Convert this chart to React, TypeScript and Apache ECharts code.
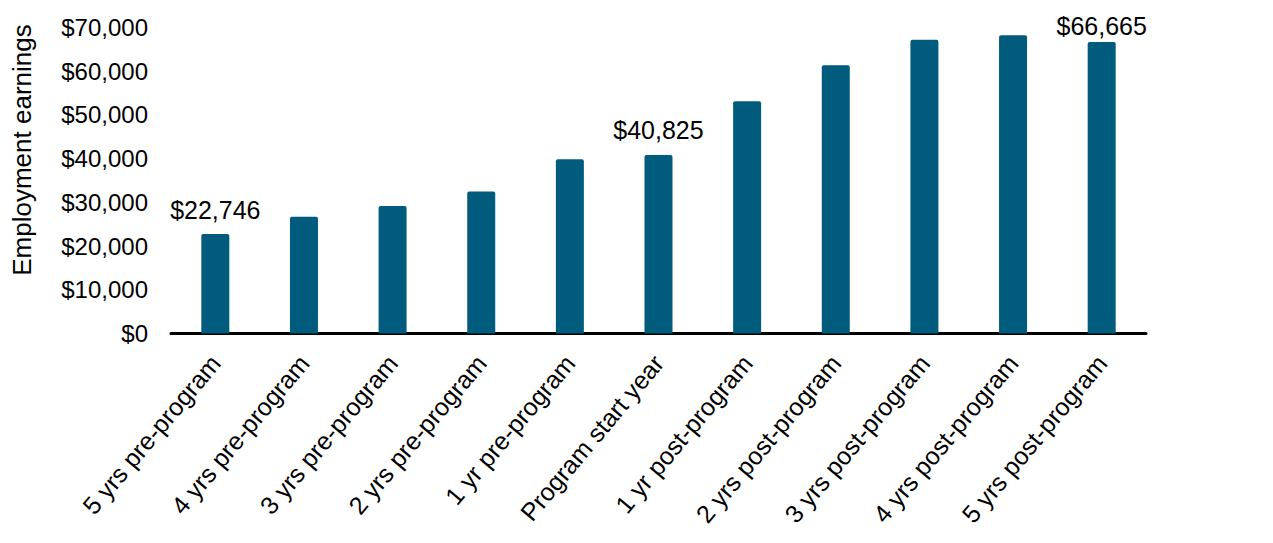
import React, { useEffect, useRef } from "react";
import * as echarts from "echarts";

const categories = [
  "5 yrs pre-program",
  "4 yrs pre-program",
  "3 yrs pre-program",
  "2 yrs pre-program",
  "1 yr pre-program",
  "Program start year",
  "1 yr post-program",
  "2 yrs post-program",
  "3 yrs post-program",
  "4 yrs post-program",
  "5 yrs post-program",
];
const earnings = [22746, 26700, 29150, 32500, 39840, 40825, 53100, 61350, 67200, 68200, 66665];
const labelledIndexes = [0, 5, 10];
const yTicks = [0, 10000, 20000, 30000, 40000, 50000, 60000, 70000];
const yTitle = "Employment earnings";

const FONT = "'Liberation Sans', Arial, sans-serif";
const BAR = "#005B7C";

const fmt = (v: number) => "$" + v.toLocaleString("en-US");

export default function App() {
  const ref = useRef<HTMLDivElement>(null);
  useEffect(() => {
    if (!ref.current) return;
    const chart = echarts.init(ref.current, null, { renderer: "svg" });
    chart.setOption({
      animation: false,
      textStyle: { fontFamily: FONT },
      grid: { left: 171, right: 127, top: 27.5, bottom: 209.6, containLabel: false },
      xAxis: {
        type: "category",
        data: categories,
        axisLine: { show: true, lineStyle: { color: "#000", width: 3 } },
        axisTick: { show: false },
        axisLabel: {
          rotate: 50,
          interval: 0,
          margin: 25,
          fontSize: 25,
          color: "#000",
          fontFamily: FONT,
        },
      },
      yAxis: {
        type: "value",
        min: yTicks[0],
        max: yTicks[yTicks.length - 1],
        interval: 10000,
        splitLine: { show: false },
        axisLine: { show: false },
        axisTick: { show: false },
        axisLabel: {
          fontSize: 24,
          color: "#000",
          margin: 23,
          fontFamily: FONT,
          formatter: (v: number) => fmt(v),
        },
      },
      graphic: [
        {
          type: "text",
          x: 22,
          y: 150,
          rotation: Math.PI / 2,
          style: {
            text: yTitle,
            fontSize: 26,
            fontFamily: FONT,
            fill: "#000",
            align: "center",
            verticalAlign: "middle",
          },
        },
      ],
      series: [
        {
          type: "bar",
          barWidth: 28,
          itemStyle: { color: BAR, borderRadius: [2, 2, 0, 0] },
          data: earnings.map((v, i) => ({
            value: v,
            label: {
              show: labelledIndexes.includes(i),
              position: "top",
              distance: i === 10 ? 4 : 12,
              formatter: fmt(v),
              fontSize: 25,
              color: "#000",
              fontFamily: FONT,
            },
          })),
        },
      ],
    });
    return () => chart.dispose();
  }, []);
  return (
    <div
      ref={ref}
      style={{ position: "fixed", left: 0, top: 0, width: 1273, height: 543, background: "#fff" }}
    />
  );
}
